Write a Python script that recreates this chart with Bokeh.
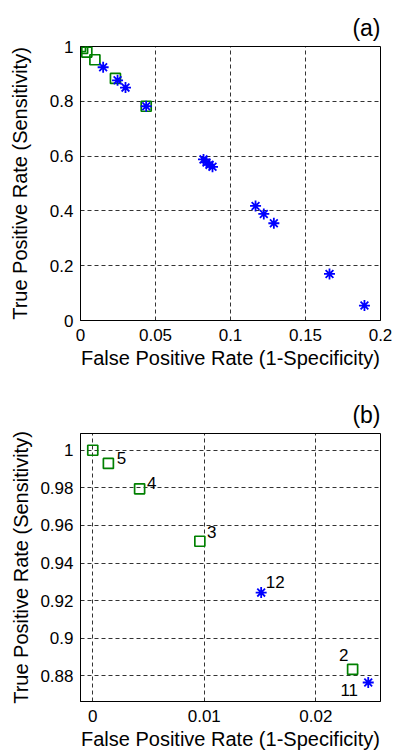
from bokeh.plotting import figure
from bokeh.models import Range1d, FixedTicker, ColumnDataSource, Title
from bokeh.layouts import column
from bokeh.embed import file_html
from bokeh.resources import INLINE
from bokeh.core.properties import value

# ---- data ----
sq_fpr = [0.0, 0.0014, 0.0042, 0.0096, 0.0233, 0.0438]
sq_tpr = [1.0, 0.993, 0.9795, 0.9516, 0.8835, 0.782]
sq_lab = ["", "5", "4", "3", "2", ""]

st_fpr = [0.0151, 0.0247, 0.0300, 0.0438, 0.0820, 0.0840, 0.0860, 0.0880,
          0.1167, 0.1222, 0.1289, 0.1660, 0.1893]
st_tpr = [0.9243, 0.8765, 0.850, 0.782, 0.588, 0.577, 0.568, 0.561,
          0.418, 0.389, 0.355, 0.170, 0.0545]
st_lab = ["12", "11", "", "", "", "", "", "", "", "", "", "", ""]

# label offsets (screen px) for panel (b)
sq_dx = [0, 13, 12, 12, -9, 0]
sq_dy = [0, -5, -6, -9, -14, 0]
st_dx = [14, -19, 0, 0, 0, 0, 0, 0, 0, 0, 0, 0, 0]
st_dy = [-11, 7, 0, 0, 0, 0, 0, 0, 0, 0, 0, 0, 0]

xticks_a = [0, 0.05, 0.1, 0.15, 0.2]
xtick_labels_a = ["0", "0.05", "0.1", "0.15", "0.2"]
yticks_a = [0, 0.2, 0.4, 0.6, 0.8, 1.0]
ytick_labels_a = ["0", "0.2", "0.4", "0.6", "0.8", "1"]

xticks_b = [0, 0.01, 0.02]
xtick_labels_b = ["0", "0.01", "0.02"]
yticks_b = [0.88, 0.9, 0.92, 0.94, 0.96, 0.98, 1.0]
ytick_labels_b = ["0.88", "0.9", "0.92", "0.94", "0.96", "0.98", "1"]

FONT = "Liberation Sans"
GREEN = "#008000"
BLUE = "#0000FF"


def make(title, xr, yr, xt, xtl, yt, ytl, top, bottom, ylab_standoff, labels):
    p = figure(width=394, height=376, output_backend="svg", toolbar_location=None,
               x_range=Range1d(*xr), y_range=Range1d(*yr),
               min_border_left=80, min_border_right=14,
               min_border_top=top, min_border_bottom=bottom)
    t = Title(text=title, align="right", text_font=FONT, text_font_size="23px",
              text_font_style="normal", text_color="black", standoff=12)
    p.add_layout(t, "above")
    p.outline_line_color = "black"
    p.outline_line_width = 1
    p.outline_line_alpha = 1
    for ax, ticks, labs in ((p.xaxis[0], xt, xtl), (p.yaxis[0], yt, ytl)):
        ax.ticker = FixedTicker(ticks=ticks)
        ax.major_label_overrides = {float(k): v for k, v in zip(ticks, labs)}
        ax.major_tick_in = 0
        ax.major_tick_out = 0
        ax.minor_tick_in = 0
        ax.minor_tick_out = 0
        ax.axis_line_color = "black"
        ax.major_label_text_font = FONT
        ax.major_label_text_font_size = "17px"
        ax.major_label_text_color = "black"
        ax.axis_label_text_font = FONT
        ax.axis_label_text_font_size = "20px"
        ax.axis_label_text_font_style = "normal"
        ax.axis_label_text_color = "black"
    p.xaxis.axis_label = "False Positive Rate (1-Specificity)"
    p.yaxis.axis_label = "True Positive Rate (Sensitivity)"
    p.xaxis.major_label_standoff = 8
    p.yaxis.major_label_standoff = 7
    p.xaxis.axis_label_standoff = 3
    p.yaxis.axis_label_standoff = ylab_standoff
    for g in (p.xgrid[0], p.ygrid[0]):
        g.grid_line_color = "black"
        g.grid_line_dash = "4 3"
        g.grid_line_alpha = 0.8
        g.grid_line_width = 1

    sq = ColumnDataSource(dict(x=sq_fpr, y=sq_tpr, t=sq_lab, dx=sq_dx, dy=sq_dy))
    st = ColumnDataSource(dict(x=st_fpr, y=st_tpr, t=st_lab, dx=st_dx, dy=st_dy))
    p.scatter("x", "y", source=sq, marker="square", size=10, fill_color=None,
              line_color=GREEN, line_width=1.7)
    p.scatter("x", "y", source=st, marker="asterisk", size=11,
              line_color=BLUE, line_width=1.8)
    if labels:
        for src in (sq, st):
            p.text("x", "y", text="t", source=src, x_offset="dx", y_offset="dy",
                   text_font=value(FONT), text_font_size="17px", text_color="black",
                   text_align="center", text_baseline="middle")
    return p


pa = make("(a)", (0, 0.2), (0, 1.0), xticks_a, xtick_labels_a, yticks_a,
          ytick_labels_a, 46, 56, 16, False)
pb = make("(b)", (-0.0011, 0.0258), (0.8664, 1.0089), xticks_b, xtick_labels_b,
          yticks_b, ytick_labels_b, 57, 46, 5, True)

layout = column(pa, pb, spacing=0)
open("out.html", "w").write(file_html(layout, INLINE))
